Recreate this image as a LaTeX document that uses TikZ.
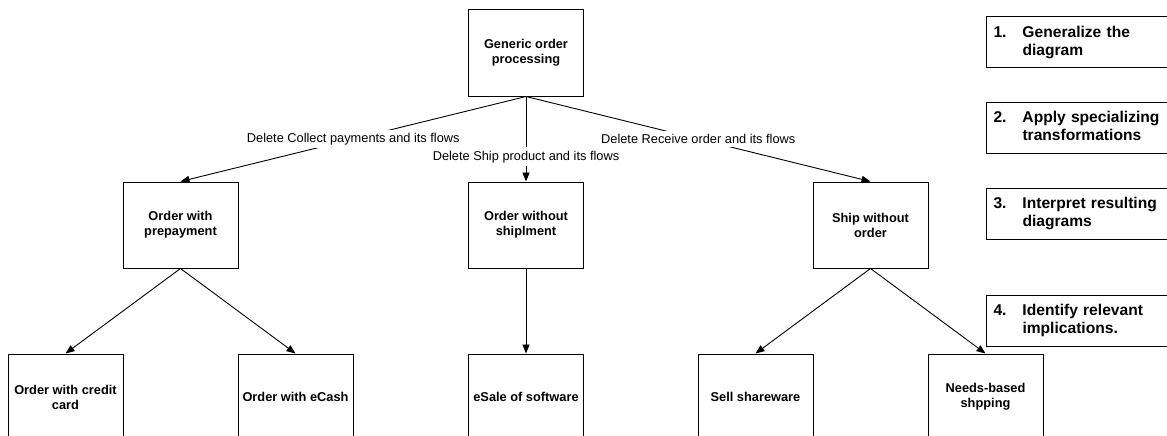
\documentclass[tikz,border=0pt]{standalone}
\usepackage{fontspec}
\setmainfont{Liberation Sans}
\usetikzlibrary{arrows.meta}
\begin{document}
\begin{tikzpicture}[x=1pt,y=-1pt,
  box/.style={draw,line width=1pt,minimum width=115pt,minimum height=86pt,inner sep=0pt,
    align=center,font=\fontsize{12.8}{15}\selectfont\bfseries},
  flow/.style={line width=0.9pt,-{Triangle[length=9pt,width=7pt]}},
  lbl/.style={fill=white,inner xsep=1.5pt,inner ysep=3.5pt,font=\fontsize{12.8}{15}\selectfont},
  stepbox/.style={draw,line width=1pt,anchor=west,minimum height=51pt,inner xsep=7pt,
    inner ysep=0pt,text width=200pt,align=left,font=\fontsize{15.6}{18}\selectfont\bfseries}]
\useasboundingbox (0,0) rectangle (1167,436);
\clip (0,0) rectangle (1167,436);

% generic diagram
\node[box] (gen) at (526,53) {Generic order\\processing};

% specialized diagrams
\node[box] (pre) at (180.5,225) {Order with\\prepayment};
\node[box] (nos) at (526,225) {Order without\\shiplment};
\node[box] (sno) at (870.5,225) {Ship without\\order};

% interpretations
\node[box] (cc) at (65.5,397) {Order with credit\\card};
\node[box] (ec) at (295.5,397) {Order with eCash};
\node[box] (es) at (526,397) {eSale of software};
\node[box] (ss) at (755.5,397) {Sell shareware};
\node[box] (nb) at (985.5,397) {Needs-based\\shpping};

% transformations
\draw[flow] (gen.south) -- (pre.north);
\draw[flow] (gen.south) -- (nos.north);
\draw[flow] (gen.south) -- (sno.north);

\draw[flow] (pre.south) -- (cc.north);
\draw[flow] (pre.south) -- (ec.north);
\draw[flow] (nos.south) -- (es.north);
\draw[flow] (sno.south) -- (ss.north);
\draw[flow] (sno.south) -- (nb.north);

% transformation labels, set over their connectors
\path (gen.south) -- node[lbl,pos=0.5]{Delete Collect payments and its flows} (pre.north);
\path (gen.south) -- node[lbl,pos=0.5]{Delete Receive order and its flows} (sno.north);
\path (gen.south) -- node[lbl,pos=0.71]{Delete Ship product and its flows} (nos.north);

% method steps
\node[stepbox] (s1) at (986,42.5) {\begin{tabular}{@{}p{29pt}@{}l@{}}1.&Generalize the\\&diagram\end{tabular}};
\node[stepbox] (s2) at (986,128) {\begin{tabular}{@{}p{29pt}@{}l@{}}2.&Apply specializing\\&transformations\end{tabular}};
\node[stepbox] (s3) at (986,213.5) {\begin{tabular}{@{}p{29pt}@{}l@{}}3.&Interpret resulting\\&diagrams\end{tabular}};
\node[stepbox] (s4) at (986,321) {\begin{tabular}{@{}p{29pt}@{}l@{}}4.&Identify relevant\\&implications.\end{tabular}};
\end{tikzpicture}
\end{document}
